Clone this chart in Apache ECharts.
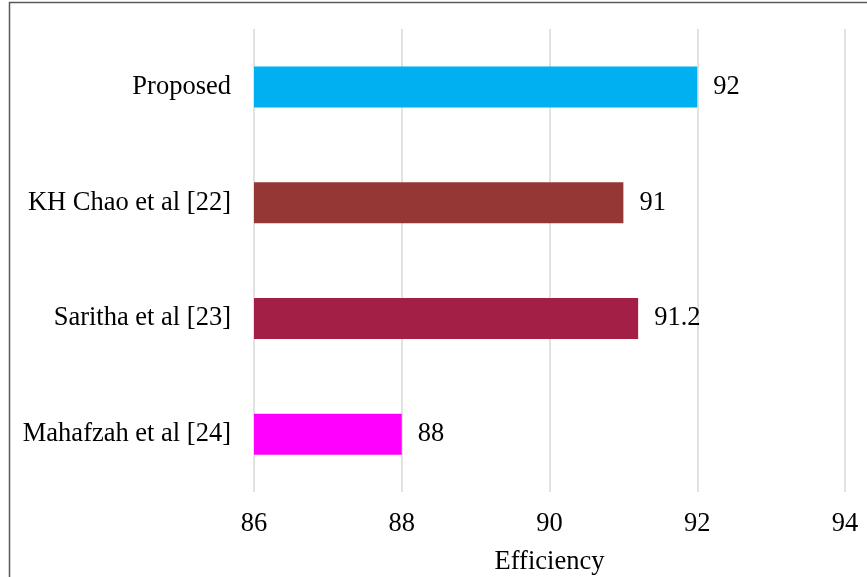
<!DOCTYPE html>
<html><head><meta charset="utf-8">
<script src="https://cdn.jsdelivr.net/npm/echarts@6/dist/echarts.min.js"></script>
<style>html,body{margin:0;padding:0;background:#fff}#c{width:867px;height:577px}</style>
</head><body><div id="c"></div>
<script>
const categories = ["Proposed", "KH Chao et al [22]", "Saritha et al [23]", "Mahafzah et al [24]"];
const values = [92, 91, 91.2, 88];
const barColors = ["#00B0F0", "#953735", "#A31F46", "#FF00FF"];
const xTicks = { min: 86, max: 94, interval: 2 };
const xName = "Efficiency";

const font = "'Liberation Serif', 'Times New Roman', serif";
const fs = 26.5;
const chart = echarts.init(document.getElementById('c'), null, {renderer: 'canvas'});
chart.setOption({
  animation: false,
  backgroundColor: '#fff',
  graphic: [{
    type: 'rect', silent: true, z: 100,
    shape: {x: 9.5, y: 2.5, width: 1000, height: 1000},
    style: {fill: 'none', stroke: '#595959', lineWidth: 1.5}
  }],
  grid: {left: 254, right: 22, top: 29, bottom: 85, containLabel: false, outerBoundsMode: 'none'},
  xAxis: {
    type: 'value', min: xTicks.min, max: xTicks.max, interval: xTicks.interval,
    name: xName, nameLocation: 'middle', nameGap: 57,
    nameTextStyle: {fontFamily: font, fontSize: fs, color: '#000'},
    axisLine: {show: false}, axisTick: {show: false},
    axisLabel: {fontFamily: font, fontSize: fs, color: '#000', margin: 19},
    splitLine: {show: true, lineStyle: {color: '#D9D9D9', width: 1.5}}
  },
  yAxis: {
    type: 'category', data: categories, inverse: true,
    axisLine: {show: false}, axisTick: {show: false},
    axisLabel: {fontFamily: font, fontSize: fs, color: '#000', margin: 23}
  },
  series: [{
    type: 'bar',
    data: values.map((v, i) => ({value: v, itemStyle: {color: barColors[i]}})),
    barWidth: 41,
    label: {show: true, position: 'right', distance: 16, fontFamily: font, fontSize: fs, color: '#000'}
  }]
});
</script></body></html>
